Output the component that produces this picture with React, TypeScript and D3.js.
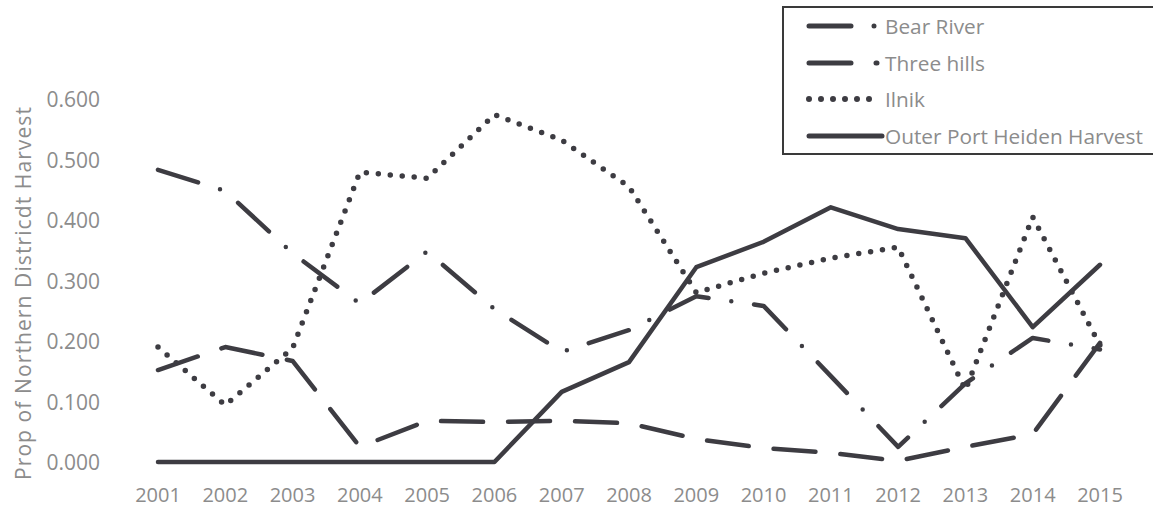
import React from "react";
import * as d3 from "d3";

const years = ["2001", "2002", "2003", "2004", "2005", "2006", "2007", "2008", "2009", "2010", "2011", "2012", "2013", "2014", "2015"];
const bearRiver = [0.483, 0.448, 0.345, 0.262, 0.348, 0.253, 0.182, 0.218, 0.274, 0.258, 0.142, 0.025, 0.13, 0.205, 0.186];
const threeHills = [0.152, 0.19, 0.167, 0.025, 0.068, 0.066, 0.068, 0.064, 0.038, 0.023, 0.015, 0.002, 0.025, 0.046, 0.197];
const ilnik = [0.19, 0.094, 0.188, 0.479, 0.469, 0.574, 0.532, 0.455, 0.28, 0.312, 0.337, 0.355, 0.119, 0.405, 0.193];
const outerPortHeiden = [0, 0, 0, 0, 0, 0, 0.116, 0.165, 0.322, 0.364, 0.421, 0.385, 0.37, 0.223, 0.326];
const yTicks = [0, 0.1, 0.2, 0.3, 0.4, 0.5, 0.6];
const seriesNames = ["Bear River", "Three hills", "Ilnik", "Outer Port Heiden Harvest"];
const yTitle = "Prop of Northern Districdt Harvest";

const LINE = "#3d3c42";
const TEXT = "#8c8c8c";
const FONT = "'Open Sans', 'Noto Sans', sans-serif";

const styles = [
  { dash: "42 23 0 23", width: 4.5 },
  { dash: "42 25", width: 4.5 },
  { dash: "0 12", width: 5.5 },
  { dash: null as string | null, width: 4.5 },
];

export default function App() {
  const W = 1153;
  const H = 507;
  const x = d3.scalePoint<string>().domain(years).range([158, 1100]);
  const y = d3.scaleLinear().domain([0, 0.6]).range([462, 99]);
  const allSeries = [bearRiver, threeHills, ilnik, outerPortHeiden];
  const line = d3
    .line<number>()
    .x((_, i) => x(years[i]) as number)
    .y((d) => y(d));

  const legendX = 783;
  const legendRows = [26, 63, 99, 136];

  return (
    <svg
      width={W}
      height={H}
      style={{ position: "absolute", left: 0, top: 0, background: "#fff" }}
      fontFamily={FONT}
    >
      <rect x={0} y={0} width={W} height={H} fill="#fff" />
      {/* y tick labels */}
      {yTicks.map((t) => (
        <text
          key={t}
          x={100}
          y={y(t)}
          textAnchor="end"
          dominantBaseline="central"
          fontSize={21}
          fill={TEXT}
        >
          {d3.format(".3f")(t)}
        </text>
      ))}
      {/* x tick labels */}
      {years.map((yr) => (
        <text
          key={yr}
          x={x(yr) as number}
          y={494}
          textAnchor="middle"
          dominantBaseline="central"
          fontSize={20}
          fill={TEXT}
        >
          {yr}
        </text>
      ))}
      {/* y title */}
      <text
        transform={`translate(23,293) rotate(-90)`}
        textAnchor="middle"
        dominantBaseline="central"
        fontSize={21}
        letterSpacing={1.1}
        fill={TEXT}
      >
        {yTitle}
      </text>
      {/* series */}
      {allSeries.map((s, i) => (
        <path
          key={seriesNames[i]}
          d={line(s) || ""}
          fill="none"
          stroke={LINE}
          strokeWidth={styles[i].width}
          strokeDasharray={styles[i].dash || undefined}
          strokeLinecap="round"
          strokeLinejoin="round"
        />
      ))}
      {/* legend */}
      <rect
        x={legendX}
        y={7}
        width={W - legendX + 10}
        height={147}
        fill="#fff"
        stroke="#3a3a3a"
        strokeWidth={2}
      />
      {seriesNames.map((name, i) => (
        <g key={name}>
          <line
            x1={809}
            x2={i === 3 ? 882 : 877}
            y1={legendRows[i]}
            y2={legendRows[i]}
            stroke={LINE}
            strokeWidth={styles[i].width + 0.5}
            strokeDasharray={styles[i].dash || undefined}
            strokeLinecap="round"
          />
          <text
            x={885}
            y={legendRows[i]}
            dominantBaseline="central"
            fontSize={20.8}
            fill={TEXT}
          >
            {name}
          </text>
        </g>
      ))}
    </svg>
  );
}
